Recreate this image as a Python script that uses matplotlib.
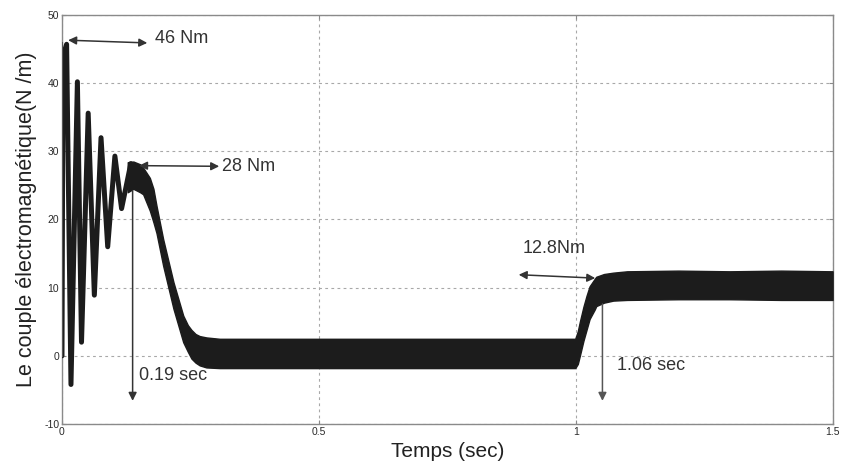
import numpy as np
import matplotlib.pyplot as plt

plt.rcParams['font.family'] = ['Liberation Sans', 'DejaVu Sans']
plt.rcParams['axes.unicode_minus'] = False

# start-up oscillations (peaks / troughs)
osc_t = [0.0, 0.002, 0.009, 0.0175, 0.030, 0.038, 0.051, 0.063, 0.076, 0.089, 0.103, 0.116, 0.134]
osc_v = [0.0, 44.0, 45.7, -4.2, 40.2, 2.0, 35.6, 8.9, 32.0, 16.0, 29.3, 21.6, 28.2]

# envelope of the ripple band after the transient
band_t = [0.128, 0.139, 0.152, 0.158, 0.171, 0.178, 0.184, 0.197, 0.217, 0.236, 0.245, 0.252, 0.260, 0.268,
          0.281, 0.307, 0.60, 0.999, 1.004, 1.008, 1.015, 1.021, 1.027, 1.037, 1.040, 1.055, 1.073, 1.10,
          1.20, 1.30, 1.40, 1.50]
band_hi = [28.4, 28.5, 28.1, 27.6, 26.1, 24.5, 22.0, 17.1, 10.8, 5.9, 4.5, 3.8, 3.2, 2.9,
           2.7, 2.5, 2.5, 2.5, 3.6, 5.0, 7.2, 8.8, 10.2, 11.3, 11.6, 12.0, 12.2, 12.4,
           12.5, 12.4, 12.5, 12.4]
band_lo = [24.0, 24.5, 24.0, 23.7, 21.3, 19.6, 18.0, 13.2, 6.9, 2.0, 0.6, -0.4, -1.0, -1.4,
           -1.7, -1.8, -1.8, -1.8, -1.2, 0.0, 2.2, 3.8, 5.4, 6.8, 7.3, 7.8, 8.1, 8.2,
           8.3, 8.3, 8.2, 8.2]

fig = plt.figure(figsize=(8.41, 4.68), dpi=100)
ax = fig.add_axes([0.0737, 0.094, 0.9163, 0.874])

ink = '#1c1c1c'
ax.plot(osc_t, osc_v, color=ink, lw=3.6, solid_joinstyle='round', solid_capstyle='round', zorder=3)
ax.plot([0.0005, 0.0005], [0, 46], color='#555555', lw=0.8, zorder=3)
ax.fill_between(band_t, band_lo, band_hi, color=ink, lw=1.0, edgecolor=ink, zorder=3)

ax.set_xlim(0, 1.5)
ax.set_ylim(-10, 50)
ax.set_xticks([0, 0.5, 1, 1.5])
ax.set_xticklabels(['0', '0.5', '1', '1.5'])
ax.set_yticks([-10, 0, 10, 20, 30, 40, 50])
ax.grid(True, color='#a8a8a8', ls=(0, (2.5, 3)), lw=0.8)
for s in ax.spines.values():
    s.set_color('#8a8a8a')
    s.set_linewidth(1.0)
ax.tick_params(direction='in', length=3, width=0.8, colors='#8a8a8a', top=True, right=True,
               labelcolor='#2a2a2a', labelsize=7.5, pad=2)

ax.set_xlabel('Temps (sec)', fontsize=15, color='#222222', labelpad=4)
ax.set_ylabel('Le couple électromagnétique(N /m)', fontsize=15.5, color='#222222', labelpad=5)

arr = dict(arrowstyle='<|-|>', color='#333333', lw=1.1, mutation_scale=12, shrinkA=0, shrinkB=0)
down = dict(arrowstyle='-|>', color='#333333', lw=1.1, mutation_scale=12, shrinkA=0, shrinkB=0)

ax.annotate('', xy=(0.012, 46.3), xytext=(0.166, 45.9), arrowprops=arr, zorder=5)
ax.text(0.182, 46.5, '46 Nm', fontsize=13, color='#333333', va='center', ha='left')

ax.annotate('', xy=(0.150, 27.9), xytext=(0.306, 27.8), arrowprops=arr, zorder=5)
ax.text(0.312, 27.8, '28 Nm', fontsize=13, color='#333333', va='center', ha='left')

ax.annotate('', xy=(0.1375, -6.6), xytext=(0.1375, 24.2), arrowprops=down, zorder=5)
ax.text(0.150, -2.9, '0.19 sec', fontsize=13, color='#333333', va='center', ha='left')

ax.annotate('', xy=(0.889, 11.9), xytext=(1.038, 11.4), arrowprops=arr, zorder=5)
ax.text(0.897, 15.8, '12.8Nm', fontsize=13, color='#333333', va='center', ha='left')

ax.annotate('', xy=(1.052, -6.6), xytext=(1.052, 7.6),
            arrowprops=dict(down, color='#555555'), zorder=5)
ax.text(1.080, -1.4, '1.06 sec', fontsize=13, color='#333333', va='center', ha='left')

fig.savefig('out.png', dpi=100)
